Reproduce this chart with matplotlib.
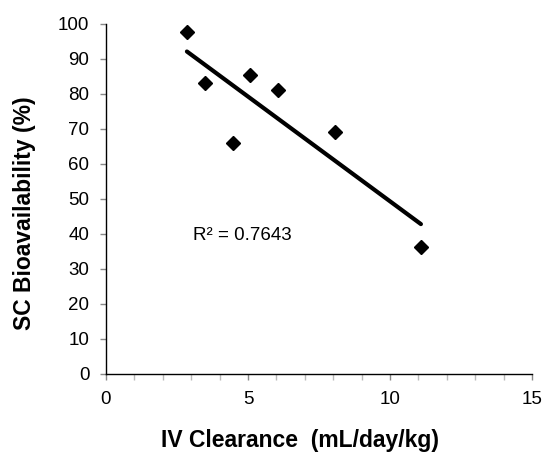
import matplotlib

matplotlib.use("Agg")

import matplotlib.pyplot as plt
import numpy as np
from matplotlib.ticker import MultipleLocator

# IV clearance (mL/day/kg) vs SC bioavailability (%)
clearance = [2.85, 3.47, 4.47, 5.06, 6.06, 8.06, 11.09]
bioavail = [97.6, 83.0, 65.9, 85.5, 81.2, 69.0, 36.4]
r2_label = "R² = 0.7643"

plt.rcParams["font.family"] = ["Liberation Sans", "DejaVu Sans"]

fig = plt.figure(figsize=(5.5, 4.69), dpi=100)
ax = fig.add_axes([0.1927, 0.2026, 0.7745, 0.7463])

x = np.asarray(clearance)
y = np.asarray(bioavail)
slope, icpt = np.polyfit(x, y, 1)
xl = np.array([x.min(), x.max()])
ax.plot(xl, slope * xl + icpt, color="black", lw=3, solid_capstyle="round")
ax.plot(x, y, "D", color="black", ms=7.5, mec="black")

ax.text(3.05, 39.5, r2_label, fontsize=13.5, va="center", ha="left")

ax.set_xlim(0, 15)
ax.set_ylim(0, 100)
ax.xaxis.set_major_locator(MultipleLocator(5))
ax.xaxis.set_minor_locator(MultipleLocator(1))
ax.yaxis.set_major_locator(MultipleLocator(10))

for side in ("top", "right"):
    ax.spines[side].set_visible(False)
for side in ("left", "bottom"):
    ax.spines[side].set_linewidth(1.0)

ax.tick_params(axis="both", which="major", direction="out", length=4, width=1,
               color="#888888", labelsize=13.5)
ax.tick_params(axis="y", which="major", pad=8)
ax.tick_params(axis="x", which="major", pad=8)
ax.tick_params(axis="x", which="minor", direction="out", length=4, width=1, color="#bbbbbb")

ax.set_xlabel("IV Clearance  (mL/day/kg)", fontsize=16.5, fontweight="bold", va="center")
ax.set_ylabel("SC Bioavailability (%)", fontsize=16.5, fontweight="bold", va="center")
ax.xaxis.set_label_coords(0.455, -0.19)
ax.yaxis.set_label_coords(-0.192, 0.46)

fig.savefig("out.png", dpi=100)
